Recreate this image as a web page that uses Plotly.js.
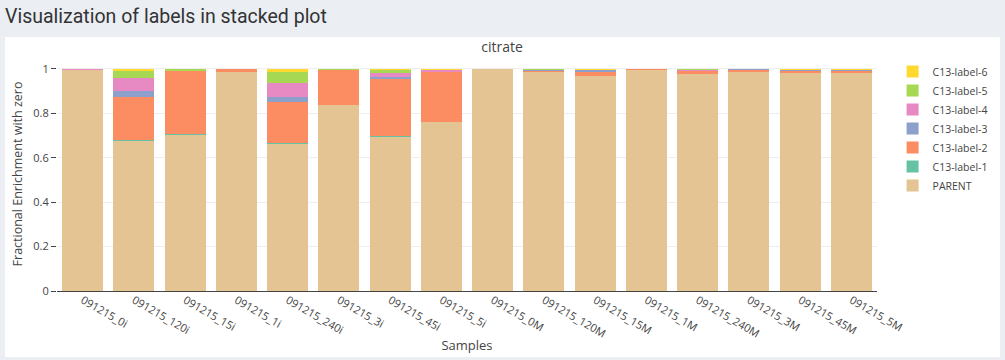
<!DOCTYPE html>
<html>
<head>
<meta charset="utf-8">
<script src="https://cdn.plot.ly/plotly-3.0.1.min.js"></script>
<style>
html, body { margin: 0; padding: 0; background: #ebeef3; width: 1005px; height: 360px; overflow: hidden; }
#hdr { position: absolute; left: 5px; top: 5px; font-family: Roboto, "Open Sans", sans-serif; font-size: 19.5px; color: #333; }
#card { position: absolute; left: 5px; top: 37px; width: 995px; height: 320px; background: #fff; }
#chart { position: absolute; left: 0; top: 0; width: 1000px; height: 320px; }
</style>
</head>
<body>
<div id="hdr">Visualization of labels in stacked plot</div>
<div id="card"><div id="chart"></div></div>
<script>
const samples = ["091215_0i","091215_120i","091215_15i","091215_1i","091215_240i","091215_3i","091215_45i","091215_5i",
                 "091215_0M","091215_120M","091215_15M","091215_1M","091215_240M","091215_3M","091215_45M","091215_5M"];
const parent = [0.997, 0.676, 0.703, 0.988, 0.660, 0.838, 0.693, 0.760, 0.998, 0.985, 0.968, 0.995, 0.977, 0.986, 0.982, 0.982];
const label1 = [0.000, 0.005, 0.006, 0.000, 0.005, 0.000, 0.005, 0.000, 0.000, 0.000, 0.000, 0.000, 0.000, 0.000, 0.000, 0.000];
const label2 = [0.000, 0.193, 0.281, 0.012, 0.186, 0.157, 0.257, 0.228, 0.000, 0.004, 0.018, 0.005, 0.014, 0.007, 0.008, 0.008];
const label3 = [0.000, 0.027, 0.000, 0.000, 0.023, 0.000, 0.009, 0.000, 0.000, 0.005, 0.007, 0.000, 0.000, 0.007, 0.003, 0.003];
const label4 = [0.003, 0.060, 0.000, 0.000, 0.063, 0.000, 0.018, 0.005, 0.002, 0.001, 0.000, 0.000, 0.004, 0.000, 0.000, 0.000];
const label5 = [0.000, 0.030, 0.010, 0.000, 0.050, 0.005, 0.013, 0.000, 0.000, 0.005, 0.000, 0.000, 0.003, 0.000, 0.000, 0.000];
const label6 = [0.000, 0.010, 0.000, 0.000, 0.014, 0.000, 0.005, 0.007, 0.000, 0.000, 0.007, 0.000, 0.002, 0.000, 0.007, 0.007];

const seriesNames = ["PARENT","C13-label-1","C13-label-2","C13-label-3","C13-label-4","C13-label-5","C13-label-6"];
const seriesValues = [parent, label1, label2, label3, label4, label5, label6];
const seriesColors = ["#e5c494","#66c2a5","#fc8d62","#8da0cb","#e78ac3","#a6d854","#ffd92f"];

const data = seriesNames.map((n, i) => ({
  type: "bar", name: n, x: samples, y: seriesValues[i], marker: {color: seriesColors[i]}
}));

const W = 1000;
const layout = {
  barmode: "stack",
  width: W, height: 320,
  margin: {l: 52, r: W - 52 - 827, t: 20, b: 66},
  paper_bgcolor: "rgba(0,0,0,0)", plot_bgcolor: "#fff",
  title: {text: "citrate", font: {size: 14, color: "#444"}, x: 497 / W, xref: "container", y: 0.969, yref: "container", yanchor: "middle"},
  xaxis: {title: {text: "Samples", font: {size: 13}}, tickangle: 30, automargin: false, tickfont: {size: 11}},
  yaxis: {title: {text: "Fractional Enrichment with zero", font: {size: 12.5}}, ticks: "outside", ticklen: 5, tickcolor: "#444", automargin: false, tickfont: {size: 11}, gridcolor: "#eee"},
  legend: {x: 1.019, y: 1, font: {size: 10.5}},
  showlegend: true
};
Plotly.newPlot("chart", data, layout, {displayModeBar: false, staticPlot: true});
</script>
</body>
</html>
